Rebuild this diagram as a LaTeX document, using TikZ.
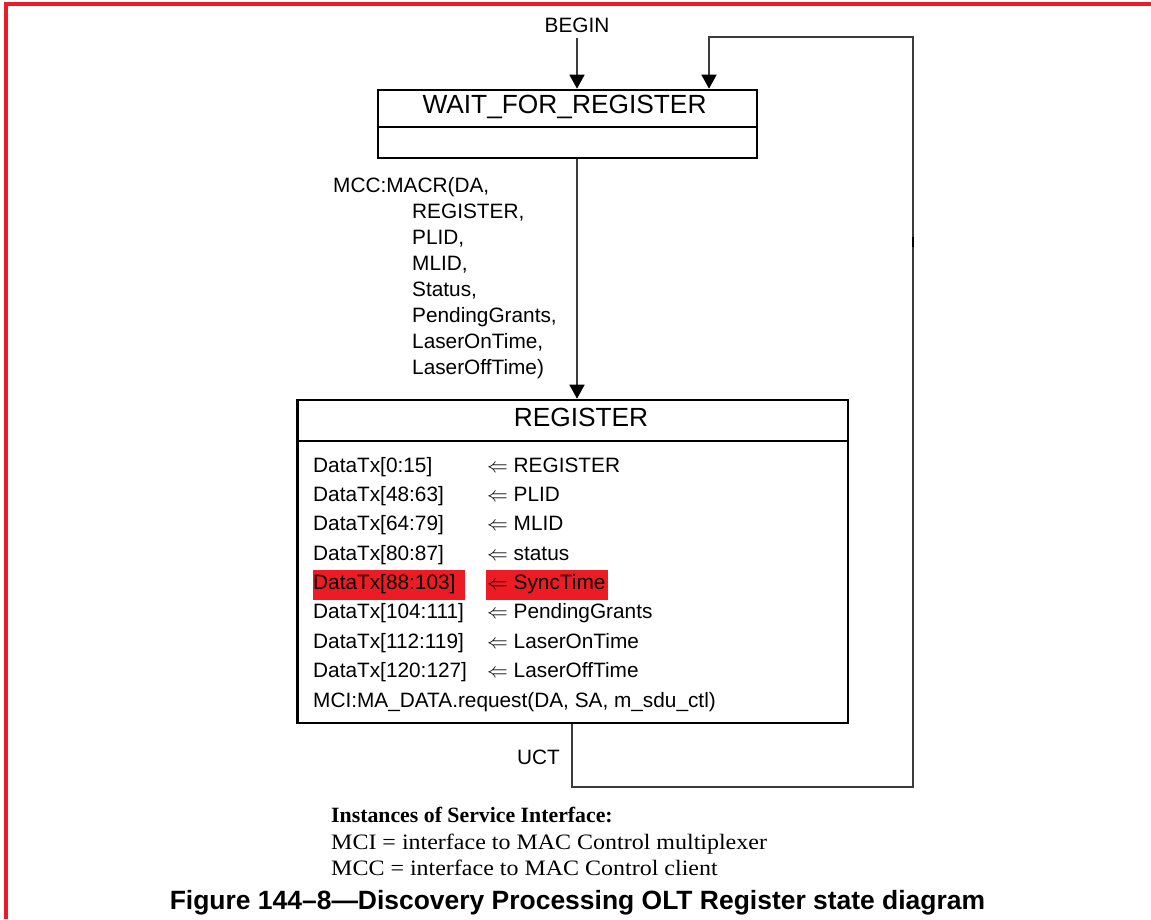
\documentclass[tikz,border=0pt]{standalone}
\usepackage{fontspec}
\setmainfont{Liberation Sans}
\newfontfamily\notefont{Liberation Serif}
\usetikzlibrary{arrows.meta}
\definecolor{framered}{HTML}{ED1C24}
\definecolor{hilite}{HTML}{ED1C24}
\definecolor{wire}{HTML}{3C3C3C}
\begin{document}
\begin{tikzpicture}[x=1pt,y=-1pt,
  statebox/.style={draw=black, line width=2.6pt, inner sep=0pt},
  conn/.style={draw=wire, line width=1.5pt},
  tip/.style={-{Triangle[width=15pt,length=14pt,color=black]}},
  lbl/.style={inner sep=0pt, anchor=base west, font=\fontsize{20.8}{25}\selectfont},
  title/.style={inner sep=0pt, anchor=base, font=\fontsize{26.3}{30}\selectfont},
  note/.style={inner sep=0pt, anchor=base west, font=\notefont\fontsize{22}{26}\selectfont},
  caption/.style={inner sep=0pt, anchor=base, font=\bfseries\fontsize{26.45}{30}\selectfont},
]
% canvas
\fill[white] (0,0) rectangle (1151,919);
\useasboundingbox (0,0) rectangle (1151,919);

% red frame along top and left edges
\draw[framered, line width=4pt] (5.5,919) -- (5.5,4) -- (1151,4);

% states
\node[statebox, minimum width=379pt, minimum height=68pt] (wait) at (567.5,124) {};
\draw[black, line width=2.6pt] (wait.west |- 0,127) -- (wait.east |- 0,127);
\node[title] (waitT) at (564.5,113.5) {WAIT\_FOR\_REGISTER};

\node[statebox, minimum width=550.5pt, minimum height=323pt] (reg) at (572.75,561.5) {};
\draw[black, line width=2.6pt] (reg.west |- 0,441) -- (reg.east |- 0,441);
\node[title] (regT) at (581,426.5) {REGISTER};

% highlighted assignment
\fill[hilite] (312.7,570) rectangle (465,600);
\fill[hilite] (486,570) rectangle (608,600);

% actions of REGISTER
\foreach \lhs/\rhs [count=\i from 0] in {
  DataTx[0:15]/REGISTER, DataTx[48:63]/PLID, DataTx[64:79]/MLID,
  DataTx[80:87]/status, DataTx[88:103]/SyncTime,
  DataTx[104:111]/PendingGrants, DataTx[112:119]/LaserOnTime,
  DataTx[120:127]/LaserOffTime}{
  \node[lbl] (lhs\i) at (313,{472+29.35*\i}) {\lhs};
  \node[lbl] (rhs\i) at (487,{472+29.35*\i}) {$\Leftarrow$ \rhs};
}
\node[lbl] (mci) at (313,707) {MCI:MA\_DATA.request(DA, SA, m\_sdu\_ctl)};

% entry
\node[lbl, anchor=base] (begin) at (577,32) {BEGIN};
\draw[conn, tip] ([yshift=-6pt]begin.south) -- (begin.south |- wait.north);

% transition WAIT_FOR_REGISTER -> REGISTER
\coordinate (down) at (577,0);
\draw[conn, tip] (wait.south -| down) -- (reg.north -| down);
\node[lbl] (mcc0) at (333,192) {MCC:MACR(DA,};
\node[lbl] (mcc1) at (412,218) {REGISTER,};
\node[lbl] (mcc2) at (412,244) {PLID,};
\node[lbl] (mcc3) at (412,270) {MLID,};
\node[lbl] (mcc4) at (412,296) {Status,};
\node[lbl] (mcc5) at (412,322) {PendingGrants,};
\node[lbl] (mcc6) at (412,348) {LaserOnTime,};
\node[lbl] (mcc7) at (412,374) {LaserOffTime)};

% unconditional return REGISTER -> WAIT_FOR_REGISTER
\coordinate (c1) at (572,787);
\coordinate (c2) at (913,787);
\coordinate (c3) at (913,37);
\coordinate (c4) at (709,37);
\draw[conn, tip] (reg.south -| c1) -- (c1) -- (c2) -- (c3) -- (c4) -- (c4 |- wait.north);
\draw[black, line width=2pt] (913,237) -- (913,247);
\node[lbl] (uct) at (517,764) {UCT};

% legend
\node[note, font=\notefont\bfseries\fontsize{21.8}{26}\selectfont] (leg0) at (331,822) {Instances of Service Interface:};
\node[note] (leg1) at (331,849) {\scalebox{1.09}[1]{MCI = interface to MAC Control multiplexer}};
\node[note] (leg2) at (331,875) {\scalebox{1.09}[1]{MCC = interface to MAC Control client}};

\node[caption] (cap) at (577.5,909) {Figure 144–8—Discovery Processing OLT Register state diagram};
\end{tikzpicture}
\end{document}
